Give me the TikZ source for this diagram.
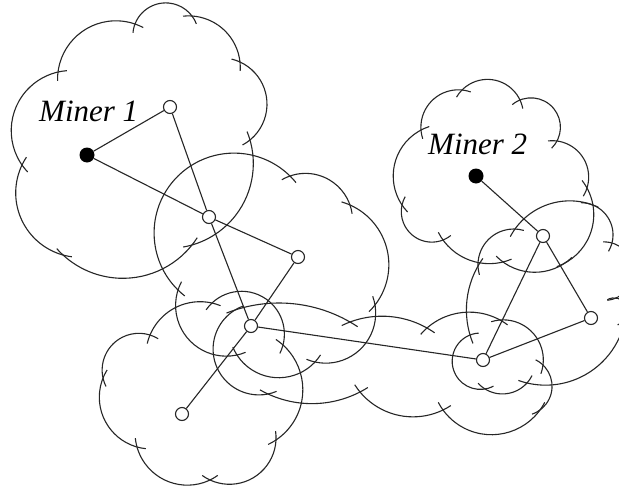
\documentclass[tikz,border=0pt]{standalone}
\usepackage{fontspec}
\setmainfont{Liberation Serif}
\newcommand\puff[5]{%
  \pgfmathsetmacro\pfdx{(#3-#1)/100}%
  \pgfmathsetmacro\pfdy{(#4-#2)/100}%
  \pgfmathsetmacro\pfd{sqrt(\pfdx*\pfdx+\pfdy*\pfdy)}%
  \pgfmathsetmacro\pfr{100*\pfd/(2*sin(#5))}%
  \pgfmathsetmacro\pfh{\pfr*cos(#5)}%
  \pgfmathsetmacro\pfcx{(#1+#3)/2-\pfdy/\pfd*\pfh}%
  \pgfmathsetmacro\pfcy{(#2+#4)/2+\pfdx/\pfd*\pfh}%
  \pgfmathsetmacro\pfa{atan2(#2-\pfcy,#1-\pfcx)}%
  \pgfmathsetmacro\pfo{9/\pfr*57.29578}%
  \pgfmathsetmacro\pfs{\pfa-\pfo}%
  \pgfmathsetmacro\pfe{\pfa+2*#5+\pfo}%
  \draw[cloudline] (\pfcx,\pfcy) ++(\pfs:\pfr) arc[start angle=\pfs, end angle=\pfe, radius=\pfr];%
}
\newcommand\mycloud[1]{%
  \foreach \px/\py/\pt [count=\ci] in {#1} {%
    \ifnum\ci=1
      \xdef\firstx{\px}\xdef\firsty{\py}%
    \else
      \puff{\lastx}{\lasty}{\px}{\py}{\lastt}%
    \fi
    \xdef\lastx{\px}\xdef\lasty{\py}\xdef\lastt{\pt}%
  }%
  \puff{\lastx}{\lasty}{\firstx}{\firsty}{\lastt}%
}
\begin{document}
\begin{tikzpicture}[x=1pt,y=-1pt,
  cloudline/.style={line width=1.1pt,black!85},
  edge/.style={line width=1.1pt,black!85},
  opn/.style={circle,draw=black!85,fill=white,line width=1.1pt,minimum size=13pt,inner sep=0pt},
  minr/.style={circle,fill=black,minimum size=15pt,inner sep=0pt},
  lbl/.style={font=\fontsize{31}{37}\selectfont\itshape,anchor=base west,inner sep=0pt}]
\clip (0,0) rectangle (619,490);
\fill[white] (0,0) rectangle (619,490);
% clouds
\mycloud{58/72/51, 135/24/61, 192/16/40, 240/62/58, 250/140/45, 192/245/47, 63/255/50, 22/165/56}
\mycloud{178/290/90, 290/176/45, 350/205/52, 375/305/56, 315/362/52, 237/355/60}
\mycloud{103/378/60, 150/335/40, 212/303/74, 283/345/52, 276/440/56, 210/480/50, 137/447/48}
\mycloud{235/310/24, 350/322/25, 427/328/35, 500/320/51, 543/365/50, 540/410/54, 443/410/38, 360/392/26, 268/394/80}
\mycloud{421/130/50, 462/90/55, 520/100/70, 557/141/50, 587/188/45, 565/263/35, 503/262/34, 443/240/62, 402/205/48}
\mycloud{478/266/47, 515/229/36, 590/204/44, 612/243/70, 616/298/60, 625/320/46, 527/383/40, 485/389/84, 470/335/23}
% nodes
\node[minr] (M1) at (87,155) {};
\node[opn] (A) at (170,107) {};
\node[opn] (B) at (209,217) {};
\node[opn] (C) at (298,257) {};
\node[opn] (D) at (251,326) {};
\node[opn] (E) at (182,414) {};
\node[opn] (F) at (483,360) {};
\node[opn] (G) at (543,236) {};
\node[opn] (H) at (591,318) {};
\node[minr] (M2) at (476,176) {};
\node[lbl] (L1) at (39,121) {Miner 1};
\node[lbl] (L2) at (428,154) {Miner 2};
% edges
\draw[edge] (M1) -- (A);
\draw[edge] (M1) -- (B);
\draw[edge] (A) -- (B);
\draw[edge] (B) -- (C);
\draw[edge] (B) -- (D);
\draw[edge] (C) -- (D);
\draw[edge] (D) -- (E);
\draw[edge] (D) -- (F);
\draw[edge] (F) -- (G);
\draw[edge] (F) -- (H);
\draw[edge] (G) -- (H);
\draw[edge] (M2) -- (G);
\end{tikzpicture}
\end{document}
